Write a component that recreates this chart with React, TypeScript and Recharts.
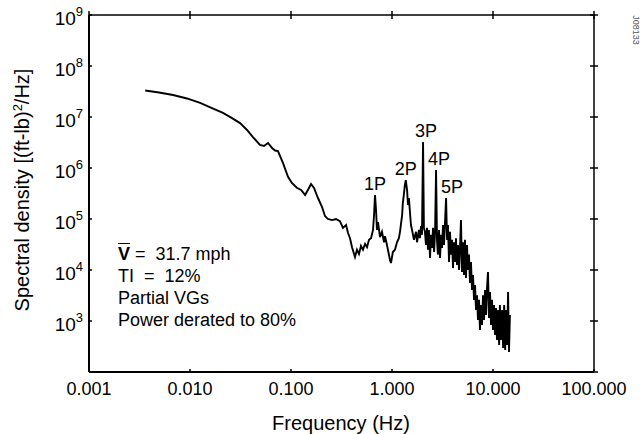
import React from 'react';
import { LineChart, Line, XAxis, YAxis, ReferenceDot } from 'recharts';

// frequency (Hz) and spectral density ((ft-lb)^2/Hz)
const freqHz = [
  0.0036, 0.00493, 0.0068, 0.00933, 0.0126, 0.0165, 0.0212, 0.0261, 0.0313, 0.0367,
  0.042, 0.0493, 0.054, 0.0592, 0.0649, 0.0695, 0.0743, 0.0834, 0.0934, 0.102,
  0.115, 0.126, 0.138, 0.147, 0.158, 0.169, 0.185, 0.203, 0.217, 0.232,
  0.255, 0.279, 0.305, 0.327, 0.351, 0.367, 0.384, 0.402, 0.43, 0.45,
  0.471, 0.493, 0.516, 0.541, 0.566, 0.592, 0.62, 0.649, 0.664, 0.679,
  0.695, 0.71, 0.727, 0.761, 0.796, 0.834, 0.853, 0.892, 0.955, 0.977,
  1.02, 1.07, 1.12, 1.17, 1.2, 1.26, 1.28, 1.31, 1.34, 1.37,
  1.41, 1.44, 1.47, 1.54, 1.58, 1.65, 1.73, 1.77, 1.85, 1.89,
  1.94, 1.98, 2.03, 2.07, 2.12, 2.17, 2.22, 2.27, 2.32, 2.38,
  2.43, 2.49, 2.55, 2.61, 2.67, 2.73, 2.79, 2.85, 2.92, 2.99,
  3.06, 3.13, 3.2, 3.27, 3.35, 3.43, 3.51, 3.58, 3.67, 3.75,
  3.84, 3.93, 4.02, 4.11, 4.2, 4.3, 4.4, 4.5, 4.61, 4.71,
  4.82, 4.93, 5.05, 5.16, 5.28, 5.4, 5.53, 5.65, 5.78, 5.92,
  6.05, 6.2, 6.34, 6.49, 6.64, 6.79, 6.95, 7.1, 7.27, 7.43,
  7.61, 7.78, 7.96, 8.15, 8.34, 8.53, 8.72, 8.92, 9.13, 9.34,
  9.56, 9.78, 10.0, 10.23, 10.47, 10.71, 10.96, 11.2, 11.5, 11.7,
  12.0, 12.3, 12.6, 12.9, 13.2, 13.5, 13.8, 14.1, 14.4, 14.7,
];

const psd = [
  3.3e7, 3.02e7, 2.7e7, 2.31e7, 1.9e7, 1.5e7, 1.2e7, 9.5e6, 7.6e6, 5.56e6,
  4.05e6, 2.83e6, 2.7e6, 3.09e6, 2.47e6, 2.2e6, 2.15e6, 1.25e6, 6.7e5, 5.1e5,
  4.05e5, 3.7e5, 2.96e5, 3.7e5, 4.86e5, 4.05e5, 2.58e5, 1.72e5, 1.14e5, 1.0e5,
  9.5e4, 1.0e5, 9.1e4, 6.7e4, 7.6e4, 5.3e4, 4.2e4, 2.8e4, 1.8e4, 2.5e4,
  2.06e4, 2.96e4, 2.5e4, 3.24e4, 2.8e4, 3.9e4, 4.2e4, 6.1e4, 1.2e5, 2.96e5,
  1.5e5, 6.1e4, 8.7e4, 4.4e4, 5.6e4, 3.5e4, 4.6e4, 3.1e4, 1.57e4, 1.37e4,
  2.25e4, 2.5e4, 3.5e4, 4.2e4, 5.6e4, 1.2e5, 2.06e5, 2.96e5, 4.6e5, 5.8e5,
  3.7e5, 1.88e5, 2.58e5, 7.6e4, 6.1e4, 3.9e4, 5.6e4, 3.5e4, 6.1e4, 4.2e4,
  7.3e4, 4.9e4, 3.24e6, 6.7e4, 5.6e4, 3.1e4, 6.7e4, 2.5e4, 6.1e4, 1.72e4,
  4.9e4, 2.7e4, 6.7e4, 2.25e4, 5.6e4, 9.1e5, 3.9e4, 2.0e4, 6.1e4, 1.72e4,
  4.9e4, 2.7e4, 7.6e4, 3.1e4, 8.7e4, 2.58e5, 3.9e4, 7.6e4, 1.44e4, 5.6e4,
  2.0e4, 3.9e4, 1.09e4, 3.5e4, 1.44e4, 4.2e4, 1.25e4, 3.1e4, 1.0e4, 2.7e4,
  9.5e4, 9.1e3, 3.5e4, 8.0e3, 3.9e4, 7.0e3, 3.1e4, 1.0e4, 2.0e4, 5.6e3,
  1.44e4, 4.05e3, 8.0e3, 2.6e3, 5.1e3, 1.64e3, 3.2e3, 1.05e3, 2.6e3, 665,
  2.06e3, 835, 3.2e3, 1.05e3, 4.05e3, 1.31e3, 4.4e3, 9.1e3, 1.15e3, 3.7e3,
  835, 2.6e3, 665, 2.06e3, 530, 1.8e3, 424, 1.64e3, 338, 2.06e3,
  424, 1.64e3, 296, 2.06e3, 270, 1.64e3, 338, 3.7e3, 247, 1.31e3,
];

const xTicks = [0.001, 0.01, 0.1, 1, 10, 100];
const yTicks = [1e2, 1e3, 1e4, 1e5, 1e6, 1e7, 1e8, 1e9];

const peakNames = ['1P', '2P', '3P', '4P', '5P'];
const peakFreq = [0.679, 1.37, 2.03, 2.73, 3.43];
const peakPsd = [2.96e5, 5.8e5, 3.24e6, 9.1e5, 2.58e5];

const noteLines = ['TI  =  12%', 'Partial VGs', 'Power derated to 80%'];

const FONT = '"Liberation Sans", Arial, Helvetica, sans-serif';

const data = freqHz.map((f, i) => ({ f, psd: psd[i] }));

const LeftTick = (props: any) => {
  const { x, y, payload } = props;
  const exp = Math.round(Math.log10(payload.value));
  return (
    <g>
      <line x1={x} y1={y} x2={x + 3} y2={y} stroke="#000" strokeWidth={1.5} />
      {exp > 2 && (
        <text x={x - 6} y={y + 10} textAnchor="end" fontSize={19} fontFamily={FONT} fill="#000">
          10
          <tspan dy={-9} fontSize={13}>{exp}</tspan>
        </text>
      )}
    </g>
  );
};

const BottomTick = (props: any) => {
  const { x, y, payload } = props;
  return (
    <g>
      <line x1={x} y1={y} x2={x} y2={y - 3} stroke="#000" strokeWidth={1.5} />
      <text x={x} y={y + 23} textAnchor="middle" fontSize={18} fontFamily={FONT} fill="#000">
        {payload.value.toFixed(3)}
      </text>
    </g>
  );
};

const RightTick = (props: any) => {
  const { x, y } = props;
  return <line x1={x - 4} y1={y} x2={x + 4} y2={y} stroke="#000" strokeWidth={1.5} />;
};

const TopTick = (props: any) => {
  const { x, y } = props;
  return <line x1={x} y1={y - 4} x2={x} y2={y + 4} stroke="#000" strokeWidth={1.5} />;
};

const axisLine = { stroke: '#000', strokeWidth: 2 };

const App = () => {
  return (
    <div style={{ position: 'absolute', left: 0, top: 0, width: 643, height: 434, background: '#fff', fontFamily: FONT }}>
      <LineChart width={643} height={434} data={data} margin={{ top: 14, right: 48, bottom: 32, left: 0 }}>
        <XAxis
          dataKey="f"
          type="number"
          scale="log"
          domain={[0.001, 100]}
          allowDataOverflow
          ticks={xTicks}
          interval={0}
          height={30}
          tickSize={0}
          tickMargin={0}
          tickLine={false}
          axisLine={axisLine}
          tick={(p: any) => <BottomTick {...p} />}
        />
        <XAxis
          xAxisId="top"
          orientation="top"
          dataKey="f"
          type="number"
          scale="log"
          domain={[0.001, 100]}
          allowDataOverflow
          ticks={xTicks}
          interval={0}
          height={1}
          tickSize={0}
          tickMargin={0}
          tickLine={false}
          axisLine={{ stroke: '#000', strokeWidth: 1.5 }}
          tick={(p: any) => <TopTick {...p} />}
        />
        <YAxis
          type="number"
          scale="log"
          domain={[100, 1e9]}
          allowDataOverflow
          ticks={yTicks}
          interval={0}
          width={89}
          tickSize={0}
          tickMargin={0}
          tickLine={false}
          axisLine={axisLine}
          tick={(p: any) => <LeftTick {...p} />}
        />
        <YAxis
          yAxisId="right"
          orientation="right"
          type="number"
          scale="log"
          domain={[100, 1e9]}
          allowDataOverflow
          ticks={yTicks}
          interval={0}
          width={1}
          tickSize={0}
          tickMargin={0}
          tickLine={false}
          axisLine={{ stroke: '#000', strokeWidth: 1.5 }}
          tick={(p: any) => <RightTick {...p} />}
        />
        <Line
          type="linear"
          dataKey="psd"
          stroke="#000"
          strokeWidth={1.9}
          dot={false}
          isAnimationActive={false}
        />
        {peakNames.map((name, i) => (
          <ReferenceDot
            key={name}
            x={peakFreq[i]}
            y={peakPsd[i]}
            r={0}
            fill="none"
            stroke="none"
            label={{
              value: name,
              position: 'top',
              offset: 5,
              fontSize: 18,
              fontFamily: FONT,
              fill: '#000',
              dx: name === '5P' ? 6 : name === '3P' || name === '4P' ? 3 : 0,
            }}
          />
        ))}
      </LineChart>

      <div
        style={{
          position: 'absolute',
          left: 22,
          top: 190,
          transform: 'translate(-50%, -50%) rotate(-90deg)',
          whiteSpace: 'nowrap',
          fontSize: 20,
          color: '#000',
        }}
      >
        Spectral density [(ft-lb)<sup style={{ fontSize: 13 }}>2</sup>/Hz]
      </div>

      <div
        style={{
          position: 'absolute',
          left: 341,
          top: 412,
          transform: 'translateX(-50%)',
          whiteSpace: 'nowrap',
          fontSize: 20,
          lineHeight: '22px',
          color: '#000',
        }}
      >
        Frequency (Hz)
      </div>

      <div
        style={{
          position: 'absolute',
          left: 118,
          top: 243,
          fontSize: 18,
          lineHeight: '22px',
          whiteSpace: 'pre',
          color: '#000',
        }}
      >
        <div>
          <span style={{ textDecoration: 'overline', fontWeight: 'bold' }}>V</span> =  31.7 mph
        </div>
        {noteLines.map((t) => (
          <div key={t}>{t}</div>
        ))}
      </div>

      <div
        style={{
          position: 'absolute',
          left: 636,
          top: 30,
          transform: 'translate(-50%, -50%) rotate(90deg)',
          fontSize: 9,
          color: '#555',
          whiteSpace: 'nowrap',
        }}
      >
        J08133
      </div>
    </div>
  );
};

export default App;
